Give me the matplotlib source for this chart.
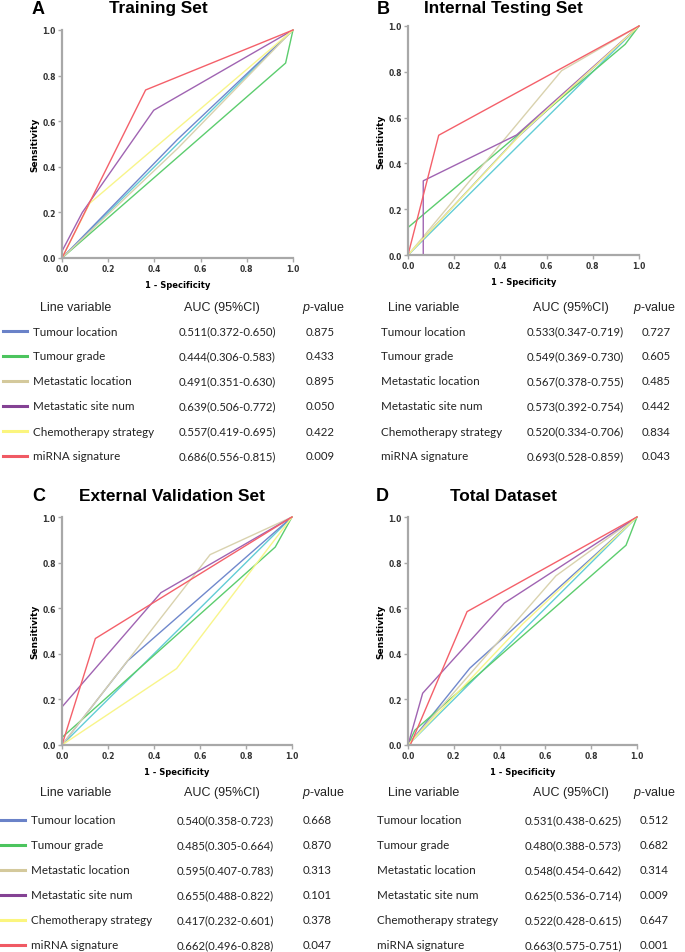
import numpy as np
import matplotlib
matplotlib.use('Agg')
import matplotlib.pyplot as plt
from matplotlib.lines import Line2D

plt.rcParams['mathtext.fontset'] = 'custom'
plt.rcParams['mathtext.it'] = 'Liberation Sans:italic'
plt.rcParams['mathtext.rm'] = 'Liberation Sans'

# ---- data ----
variables = ['Tumour location', 'Tumour grade', 'Metastatic location',
             'Metastatic site num', 'Chemotherapy strategy', 'miRNA signature']
colors = ['#7088cc', '#5ccd6e', '#d9d2ae', '#a064b2', '#f8f58a', '#f4606a']
swatch_colors = ['#6a82c8', '#4cc45e', '#d4c99c', '#844294', '#fbf57e', '#f05a64']
ref_color = '#62cdd6'

panel_letters = ['A', 'B', 'C', 'D']
panel_titles = ['Training Set', 'Internal Testing Set', 'External Validation Set', 'Total Dataset']

# ROC curves (1-specificity, sensitivity) per panel, in variable order
roc_train = [
    ([0, 0.5, 1], [0, 0.52, 1]),
    ([0, 0.968, 1], [0, 0.855, 1]),
    ([0, 0.5, 1], [0, 0.48, 1]),
    ([0, 0, 0.088, 0.397, 1], [0, 0.03, 0.2, 0.648, 1]),
    ([0, 0.12, 1], [0, 0.24, 1]),
    ([0, 0.362, 1], [0, 0.737, 1]),
]
roc_internal = [
    ([0, 0.47, 1], [0, 0.51, 1]),
    ([0, 0, 0.94, 1], [0, 0.12, 0.92, 1]),
    ([0, 0.665, 1], [0, 0.805, 1]),
    ([0, 0.066, 0.066, 0.47, 1], [0, 0, 0.324, 0.524, 1]),
    ([0, 0.5, 1], [0, 0.54, 1]),
    ([0, 0.133, 1], [0, 0.523, 1]),
]
roc_external = [
    ([0, 0.286, 1], [0, 0.37, 1]),
    ([0, 0, 0.927, 1], [0, 0.033, 0.868, 1]),
    ([0, 0.644, 1], [0, 0.835, 1]),
    ([0, 0, 0.43, 1], [0, 0.167, 0.668, 1]),
    ([0, 0.498, 1], [0, 0.335, 1]),
    ([0, 0.145, 1], [0, 0.467, 1]),
]
roc_total = [
    ([0, 0.27, 1], [0, 0.337, 1]),
    ([0, 0.03, 0.952, 1], [0, 0.065, 0.876, 1]),
    ([0, 0.646, 1], [0, 0.742, 1]),
    ([0, 0.064, 0.42, 1], [0, 0.227, 0.622, 1]),
    ([0, 0.5, 1], [0, 0.53, 1]),
    ([0, 0.01, 0.258, 1], [0, 0, 0.585, 1]),
]
rocs = [roc_train, roc_internal, roc_external, roc_total]

auc_train = ['0.511(0.372-0.650)', '0.444(0.306-0.583)', '0.491(0.351-0.630)',
             '0.639(0.506-0.772)', '0.557(0.419-0.695)', '0.686(0.556-0.815)']
p_train = ['0.875', '0.433', '0.895', '0.050', '0.422', '0.009']
auc_internal = ['0.533(0.347-0.719)', '0.549(0.369-0.730)', '0.567(0.378-0.755)',
                '0.573(0.392-0.754)', '0.520(0.334-0.706)', '0.693(0.528-0.859)']
p_internal = ['0.727', '0.605', '0.485', '0.442', '0.834', '0.043']
auc_external = ['0.540(0.358-0.723)', '0.485(0.305-0.664)', '0.595(0.407-0.783)',
                '0.655(0.488-0.822)', '0.417(0.232-0.601)', '0.662(0.496-0.828)']
p_external = ['0.668', '0.870', '0.313', '0.101', '0.378', '0.047']
auc_total = ['0.531(0.438-0.625)', '0.480(0.388-0.573)', '0.548(0.454-0.642)',
             '0.625(0.536-0.714)', '0.522(0.428-0.615)', '0.663(0.575-0.751)']
p_total = ['0.512', '0.682', '0.314', '0.009', '0.647', '0.001']
aucs = [auc_train, auc_internal, auc_external, auc_total]
pvals = [p_train, p_internal, p_external, p_total]

ticks = [0.0, 0.2, 0.4, 0.6, 0.8, 1.0]

W, H = 685, 953
fig = plt.figure(figsize=(W / 100, H / 100), dpi=100)

def fx(px):
    return px / W

def fy(py):
    return 1 - py / H

# axes boxes in pixels: left, top, right, bottom
boxes = [(62, 31, 293, 259), (408, 27, 639, 256), (62, 518, 292, 746), (408, 518, 637, 746)]
letter_pos = [(32, 9), (377, 9), (32, 497), (376, 497)]
title_pos = [(158, 9), (503, 9), (172, 497), (503, 497)]

spine_col = '#a8a8a8'
for i in range(4):
    l, t, r, b = boxes[i]
    ax = fig.add_axes([fx(l), fy(b), fx(r - l), (b - t) / H])
    ax.plot([0, 1], [0, 1], color=ref_color, lw=1.0, clip_on=False, zorder=1)
    for k in range(len(variables)):
        xs, ys = rocs[i][k]
        ax.plot(xs, ys, color=colors[k], lw=1.0, clip_on=False, zorder=2)
    ax.set_xlim(0, 1)
    ax.set_ylim(0, 1)
    ax.set_xticks(ticks)
    ax.set_yticks(ticks)
    ax.set_xticklabels(['%.1f' % v for v in ticks])
    ax.set_yticklabels(['%.1f' % v for v in ticks])
    for s in ['top', 'right']:
        ax.spines[s].set_visible(False)
    for s in ['left', 'bottom']:
        ax.spines[s].set_color(spine_col)
        ax.spines[s].set_linewidth(1.6)
    ax.tick_params(length=3, width=1, color=spine_col, labelsize=5.5, pad=1.5,
                   labelcolor='#333333')
    for lab in ax.get_xticklabels() + ax.get_yticklabels():
        lab.set_fontweight('bold')
    ax.set_ylabel('Sensitivity', fontsize=6.5, fontweight='bold', labelpad=2)
    ax.set_xlabel('1 - Specificity', fontsize=6, fontweight='bold', labelpad=5)

    fig.text(fx(letter_pos[i][0]), fy(letter_pos[i][1]), panel_letters[i],
             fontsize=13, fontweight='bold', family='Liberation Sans', va='center', ha='left')
    fig.text(fx(title_pos[i][0]), fy(title_pos[i][1]), panel_titles[i],
             fontsize=12.4, fontweight='bold', family='Liberation Sans', va='center', ha='center')

# tables: header y, first row y, row step, columns
hdr_y = [308, 308, 793, 793]
row_y0 = [332, 332, 821, 821]
step = 25.0
col_name = [33, 381, 31, 377]
col_auc = [179, 527, 177, 525]
col_p = [306, 642, 303, 640]
hdr_name = [40, 388, 40, 388]
hdr_auc = [184, 533, 184, 533]
hdr_p = [302, 633, 302, 633]
show_swatch = [True, False, True, False]
sw_x = [(3, 27), None, (1, 25), None]

for i in range(4):
    hy = hdr_y[i]
    fig.text(fx(hdr_name[i]), fy(hy), 'Line variable', fontsize=9, family='Liberation Sans',
             va='center', ha='left', color='#222222')
    fig.text(fx(hdr_auc[i]), fy(hy), 'AUC (95%CI)', fontsize=9, family='Liberation Sans',
             va='center', ha='left', color='#222222')
    fig.text(fx(hdr_p[i]), fy(hy), r'$\it{p}$-value', fontsize=9, family='Liberation Sans',
             va='center', ha='left', color='#222222')
    for k in range(len(variables)):
        y = row_y0[i] + k * step
        fig.text(fx(col_name[i]), fy(y), variables[k], fontsize=8.4, family='Lato',
                 va='center', ha='left', color='#222222')
        fig.text(fx(col_auc[i]), fy(y), aucs[i][k], fontsize=8.2, family='Lato',
                 va='center', ha='left', color='#222222')
        fig.text(fx(col_p[i]), fy(y), pvals[i][k], fontsize=8.2, family='Lato',
                 va='center', ha='left', color='#222222')
        if show_swatch[i]:
            x0, x1 = sw_x[i]
            fig.add_artist(Line2D([fx(x0), fx(x1)], [fy(y), fy(y)], color=swatch_colors[k],
                                  lw=2.2, transform=fig.transFigure))

fig.savefig('out.png', dpi=100)
